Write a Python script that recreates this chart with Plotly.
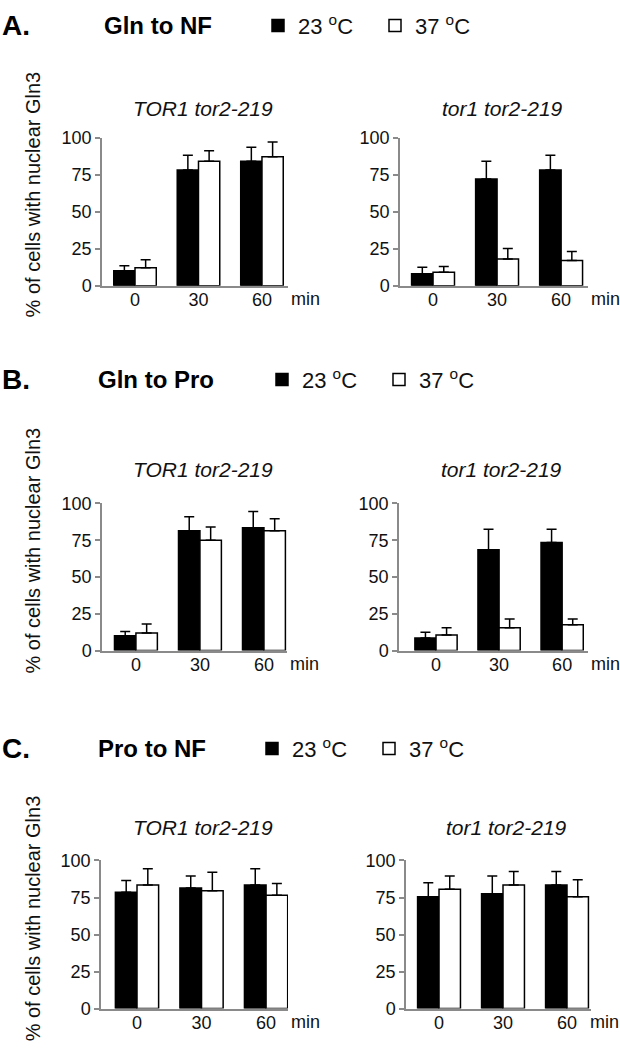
import plotly.graph_objects as go

# ---------------- data ----------------
times = ["0", "30", "60"]
series_names = ["23 <sup>o</sup>C", "37 <sup>o</sup>C"]
strains = ["TOR1 tor2-219", "tor1 tor2-219"]
panel_letters = ["A.", "B.", "C."]
panel_titles = ["Gln to NF", "Gln to Pro", "Pro to NF"]
y_title = "% of cells with nuclear Gln3"
y_ticks = [0, 25, 50, 75, 100]

# Panel A
A_TOR1_23 = [10, 78, 84]
A_TOR1_23_err = [3.5, 10, 9.5]
A_TOR1_37 = [12, 84, 87]
A_TOR1_37_err = [5.5, 7, 10]
A_tor1_23 = [8, 72, 78]
A_tor1_23_err = [4.5, 12, 10]
A_tor1_37 = [9, 18, 17]
A_tor1_37_err = [4, 7, 6]
# Panel B
B_TOR1_23 = [10, 81.5, 83.5]
B_TOR1_23_err = [3, 9.5, 11]
B_TOR1_37 = [12, 75, 81.5]
B_TOR1_37_err = [6, 9, 8]
B_tor1_23 = [8.5, 68.5, 73.5]
B_tor1_23_err = [4, 14, 9]
B_tor1_37 = [10.5, 15.5, 17.5]
B_tor1_37_err = [5, 6, 4]
# Panel C
C_TOR1_23 = [78.5, 81.5, 83.5]
C_TOR1_23_err = [8, 8, 11]
C_TOR1_37 = [83.5, 79.5, 76.5]
C_TOR1_37_err = [11, 12.5, 8]
C_tor1_23 = [75.5, 77.5, 83.5]
C_tor1_23_err = [9.5, 12, 9]
C_tor1_37 = [80.5, 83.5, 75.5]
C_tor1_37_err = [9, 9, 11.5]

panels = [
    [(A_TOR1_23, A_TOR1_23_err, A_TOR1_37, A_TOR1_37_err),
     (A_tor1_23, A_tor1_23_err, A_tor1_37, A_tor1_37_err)],
    [(B_TOR1_23, B_TOR1_23_err, B_TOR1_37, B_TOR1_37_err),
     (B_tor1_23, B_tor1_23_err, B_tor1_37, B_tor1_37_err)],
    [(C_TOR1_23, C_TOR1_23_err, C_TOR1_37, C_TOR1_37_err),
     (C_tor1_23, C_tor1_23_err, C_tor1_37, C_tor1_37_err)],
]

# ---------------- layout geometry (pixels) ----------------
W, H = 620, 1050
FONT = "Liberation Sans, Arial, Helvetica, sans-serif"
plot_y = [(130, 281), (503, 653), (867, 1018)]          # top, bottom
plot_x = [[(102, 288), (400, 588)],
          [(102, 287), (399, 588)],
          [(101, 288), (406, 591)]]
x_ranges = [[(-0.52, 2.41), (-0.516, 2.42)],
            [(-0.53, 2.36), (-0.587, 2.41)],
            [(-0.558, 2.34), (-0.516, 2.375)]]
min_shift = [[1, 1], [1, 1], [1, -3]]
header_y = [16, 377, 753]
subtitle_y = [100, 468, 833]
ytitle_y = [188, 551, 926]
legend_x = [258, 262, 252]

def fx(px):
    return px / W

def fy(py):
    return 1 - py / H

fig = go.Figure()
layout = dict(
    width=W, height=H,
    margin=dict(l=0, r=0, t=0, b=0),
    paper_bgcolor="white", plot_bgcolor="white",
    barmode="group", bargap=0.33, bargroupgap=0,
    font=dict(family=FONT, size=18, color="#111"),
    showlegend=True,
)
annotations = []
fills = ["black", "white"]
legend_names = ["legend", "legend2", "legend3"]

n = 0
for p in range(3):
    for s in range(2):
        n += 1
        xa = "x" if n == 1 else f"x{n}"
        ya = "y" if n == 1 else f"y{n}"
        v23, e23, v37, e37 = panels[p][s]
        for k, (vals, errs) in enumerate([(v23, e23), (v37, e37)]):
            fig.add_trace(go.Bar(
                x=[0, 1, 2], y=vals, name=series_names[k],
                xaxis=xa, yaxis=ya,
                marker=dict(color=fills[k], line=dict(color="black", width=1.5)),
                error_y=dict(type="data", array=errs, arrayminus=[0, 0, 0],
                             symmetric=False, color="black", thickness=1.5, width=5),
                showlegend=(s == 0), legend=legend_names[p],
            ))
        xkey = "xaxis" if n == 1 else f"xaxis{n}"
        ykey = "yaxis" if n == 1 else f"yaxis{n}"
        x0, x1 = plot_x[p][s]
        top, bot = plot_y[p]
        layout[xkey] = dict(
            domain=[fx(x0), fx(x1)], anchor=ya, range=list(x_ranges[p][s]),
            tickvals=[0, 1, 2], ticktext=times, ticks="",
            showline=True, linecolor="#8a8a8a", linewidth=1.5,
            showgrid=False, zeroline=False, fixedrange=True,
            tickfont=dict(size=18, color="#111"), ticklabelstandoff=-3,
        )
        layout[ykey] = dict(
            domain=[fy(bot), fy(top)], anchor=xa, range=[0, 100],
            tickvals=y_ticks, ticks="outside", ticklen=5, tickcolor="#8a8a8a",
            tickwidth=1.5, showline=True, linecolor="#8a8a8a", linewidth=1.5,
            showgrid=False, zeroline=False, fixedrange=True,
            tickfont=dict(size=18, color="#111"),
        )
        # strain subtitle
        annotations.append(dict(
            text=f"<i>{strains[s]}</i>", xref="paper", yref="paper",
            x=fx((x0 + x1) / 2 + 8), y=fy(subtitle_y[p]),
            xanchor="center", yanchor="middle", showarrow=False,
            font=dict(size=21, color="#111"),
        ))
        # "min" label
        annotations.append(dict(
            text="min", xref=f"{xa} domain", yref=f"{ya} domain",
            x=1, y=0, xanchor="left", yanchor="top", xshift=min_shift[p][s], yshift=-1,
            showarrow=False, font=dict(size=18, color="#111"),
        ))
    # panel letter and title
    annotations.append(dict(
        text=f"<b>{panel_letters[p]}</b>", xref="paper", yref="paper",
        x=0, y=fy(header_y[p]), xanchor="left", yanchor="middle",
        showarrow=False, font=dict(size=28, color="black"),
    ))
    annotations.append(dict(
        text=f"<b>{panel_titles[p]}</b>", xref="paper", yref="paper",
        x=fx(102 if p == 0 else 96), y=fy(header_y[p]), xanchor="left", yanchor="middle",
        showarrow=False, font=dict(size=24, color="black"),
    ))
    # y-axis title
    annotations.append(dict(
        text=y_title, xref="paper", yref="paper", x=fx(33), y=fy(ytitle_y[p]),
        xanchor="center", yanchor="middle", textangle=-90, showarrow=False,
        font=dict(size=20, color="#111"),
    ))
    layout[legend_names[p]] = dict(
        orientation="h", x=fx(legend_x[p]), y=fy(header_y[p]),
        xanchor="left", yanchor="middle", bgcolor="rgba(0,0,0,0)",
        font=dict(size=22, color="#111"), itemwidth=30, traceorder="normal",
        entrywidth=72, entrywidthmode="pixels",
    )

layout["annotations"] = annotations
fig.update_layout(**layout)
fig.write_html(
    "out.html",
    config={"displayModeBar": False},
    post_script="document.body.style.margin='0px';document.body.style.padding='0px';"
                "document.body.style.overflow='hidden';",
)
